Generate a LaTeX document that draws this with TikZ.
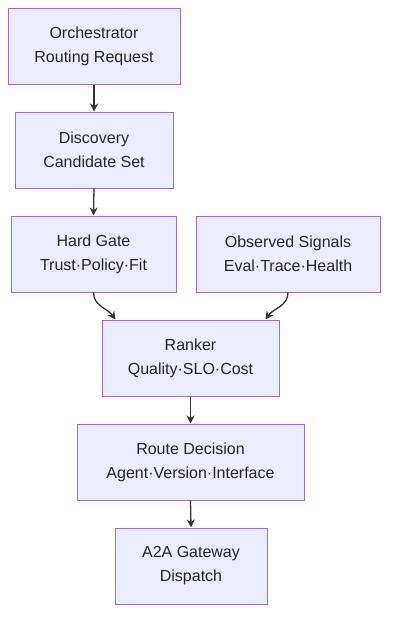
\documentclass[tikz,border=0pt]{standalone}
\usepackage{fontspec}
\setmainfont{Liberation Sans}
\usepackage{tikz}
\usetikzlibrary{arrows.meta}

\definecolor{boxfill}{HTML}{ECECFF}
\definecolor{boxline}{HTML}{9370DB}
\definecolor{linkgray}{HTML}{333333}

\tikzset{
	stage/.style={draw=boxline, fill=boxfill, line width=1pt, minimum height=76pt,
		align=center, font=\fontsize{16pt}{24pt}\selectfont, text=black!85},
	link/.style={->, draw=linkgray, line width=1.3pt}
}

\begin{document}
\begin{tikzpicture}[x=1pt, y=1pt, >={Stealth[length=8pt, width=8pt]}]

		\useasboundingbox (0, 0) rectangle (396, -624);

		% Column 1: main chain
		\node[stage, minimum width=172pt] (orch) at (94, -46) {Orchestrator\\Routing Request};
		\node[stage, minimum width=158pt] (disc) at (94, -150) {Discovery\\Candidate Set};
		\node[stage, minimum width=165pt] (gate) at (93.5, -254) {Hard Gate\\Trust·Policy·Fit};

		% Column 2: side input
		\node[stage, minimum width=184pt] (signals) at (288, -254) {Observed Signals\\Eval·Trace·Health};

		% Merged part
		\node[stage, minimum width=177pt] (ranker) at (190.5, -358) {Ranker\\Quality·SLO·Cost};
		\node[stage, minimum width=227pt] (route) at (190.5, -462) {Route Decision\\Agent·Version·Interface};
		\node[stage, minimum width=152pt] (gateway) at (191, -566) {A2A Gateway\\Dispatch};

		% --- Connecting Lines ---
		\draw[link] (orch.south) -- (disc.north);
		\draw[link] (disc.south) -- (gate.north);

		% Two inputs bending into the ranker
		\draw[link] (gate.south) to[out=-90, in=125] ([xshift=-75pt]ranker.north);
		\draw[link] (signals.south) to[out=-90, in=55] ([xshift=75pt]ranker.north);

		\draw[link] (ranker.south) -- (route.north);
		\draw[link] (route.south) -- (gateway.north);

	\end{tikzpicture}
\end{document}
